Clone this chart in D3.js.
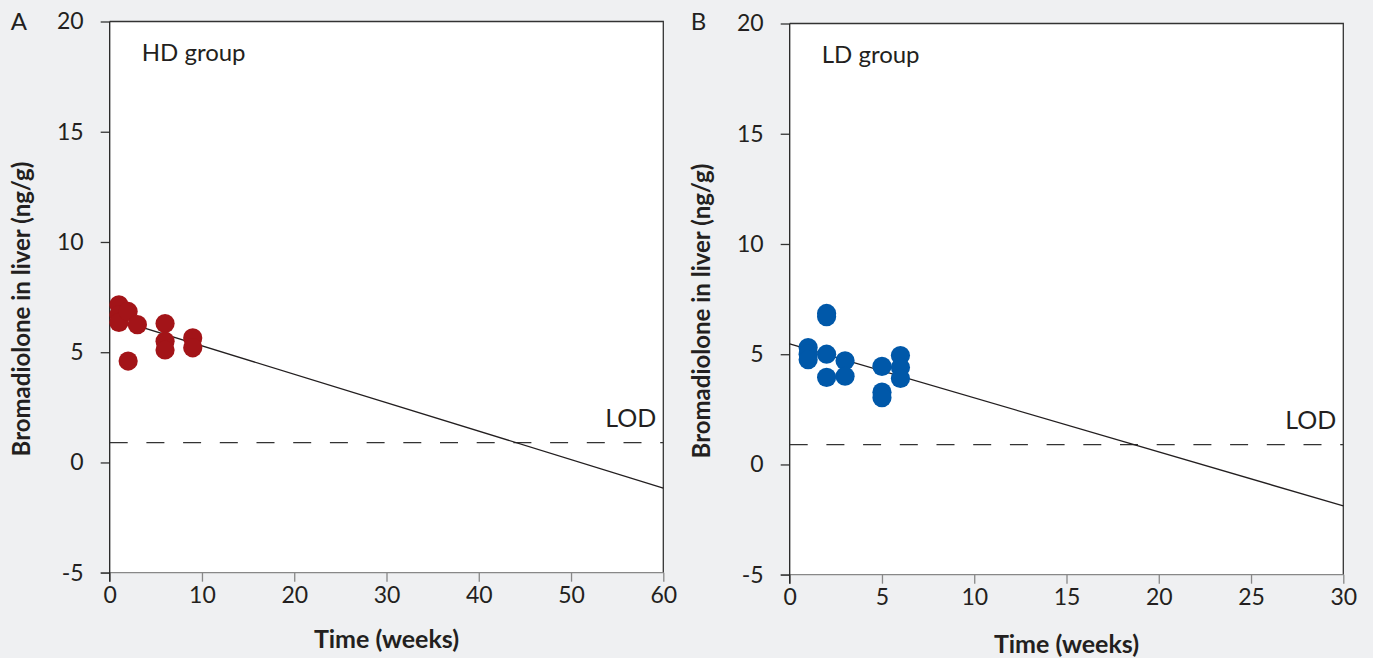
<!DOCTYPE html>
<html>
<head>
<meta charset="utf-8">
<script src="https://cdn.jsdelivr.net/npm/d3@7"></script>
<style>
  body { margin: 0; background: #eff0f2; }
  svg { display: block; }
  text { font-family: Lato, "Noto Sans", sans-serif; fill: #231f20; }
</style>
</head>
<body>
<svg id="chart"></svg>
<script>
// data
const hdWeeks = [1, 1, 1, 2, 2, 3, 6, 6, 6, 9, 9];
const hdValues = [7.15, 6.7, 6.35, 6.85, 4.6, 6.25, 6.3, 5.5, 5.1, 5.65, 5.2];
const ldWeeks = [1, 1, 1, 2, 2, 2, 2, 3, 3, 5, 5, 5, 6, 6, 6];
const ldValues = [5.3, 5.0, 4.75, 6.85, 6.7, 5.0, 3.95, 4.7, 4.0, 4.45, 3.28, 3.03, 4.94, 4.4, 3.9];
const hdFit = [6.58, -0.129]; // intercept, slope
const ldFit = [5.47, -0.245];
const lod = 0.9;
const yTicks = [-5, 0, 5, 10, 15, 20];
const hdXTicks = [0, 10, 20, 30, 40, 50, 60];
const ldXTicks = [0, 5, 10, 15, 20, 25, 30];

const W = 1373, H = 658;
const svg = d3.select("#chart").attr("width", W).attr("height", H);

const panels = [
  { letter: "A", group: "HD group", weeks: hdWeeks, values: hdValues, fit: hdFit,
    xMax: 60, xTicks: hdXTicks, color: "#a31418", titleY: 648,
    left: 109.7, right: 663.3, top: 21.5, bottom: 572.7 },
  { letter: "B", group: "LD group", weeks: ldWeeks, values: ldValues, fit: ldFit,
    xMax: 30, xTicks: ldXTicks, color: "#0058a9", titleY: 653,
    left: 789.7, right: 1343.3, top: 23.5, bottom: 574.7 }
];

panels.forEach((p) => {
  const x = d3.scaleLinear().domain([0, p.xMax]).range([p.left, p.right]);
  const y = d3.scaleLinear().domain([-5, 20]).range([p.bottom, p.top]);
  const g = svg.append("g");

  // plot background + frame top/right
  g.append("rect")
    .attr("x", p.left).attr("y", p.top)
    .attr("width", p.right - p.left).attr("height", p.bottom - p.top)
    .attr("fill", "#fff");
  g.append("path")
    .attr("d", `M${p.left},${p.top}H${p.right}V${p.bottom}`)
    .attr("fill", "none").attr("stroke", "#333").attr("stroke-width", 1.3);

  // x axis
  const xAxis = g.append("g")
    .attr("transform", `translate(0,${p.bottom})`)
    .call(d3.axisBottom(x).tickValues(p.xTicks).tickSize(9).tickPadding(5).tickSizeOuter(0));
  xAxis.select(".domain").remove();
  xAxis.append("line")
    .attr("x1", p.left - 9).attr("x2", p.right)
    .attr("stroke", "#888").attr("stroke-width", 1.3);
  xAxis.selectAll(".tick line").attr("stroke", "#888").attr("stroke-width", 1.3);
  xAxis.selectAll(".tick text")
    .style("font-family", "Lato, 'Noto Sans', sans-serif")
    .style("font-size", "23px").attr("fill", "#231f20");

  // y axis
  const yAxis = g.append("g")
    .attr("transform", `translate(${p.left},0)`)
    .call(d3.axisLeft(y).tickValues(yTicks).tickFormat((d) => String(d))
      .tickSize(9).tickPadding(17).tickSizeOuter(0));
  yAxis.select(".domain").remove();
  yAxis.append("line")
    .attr("y1", p.top).attr("y2", p.bottom + 9)
    .attr("stroke", "#222").attr("stroke-width", 1.3);
  yAxis.selectAll(".tick line").attr("stroke", "#333").attr("stroke-width", 1.3);
  yAxis.selectAll(".tick text")
    .style("font-family", "Lato, 'Noto Sans', sans-serif")
    .style("font-size", "23px").attr("fill", "#231f20");

  // LOD line
  g.append("line")
    .attr("x1", p.left).attr("x2", p.right)
    .attr("y1", y(lod)).attr("y2", y(lod))
    .attr("stroke", "#333").attr("stroke-width", 1.2)
    .attr("stroke-dasharray", "18,18.7");
  g.append("text")
    .attr("x", p.right - 7).attr("y", y(lod) - 16)
    .attr("text-anchor", "end").style("font-size", "25px")
    .text("LOD");

  // regression line
  g.append("line")
    .attr("x1", x(0)).attr("y1", y(p.fit[0]))
    .attr("x2", x(p.xMax)).attr("y2", y(p.fit[0] + p.fit[1] * p.xMax))
    .attr("stroke", "#231f20").attr("stroke-width", 1.3);

  // points
  g.selectAll("circle")
    .data(p.weeks.map((w, i) => [w, p.values[i]]))
    .enter()
    .append("circle")
    .attr("cx", (d) => x(d[0]))
    .attr("cy", (d) => y(d[1]))
    .attr("r", 9.6)
    .attr("fill", p.color);

  // labels
  g.append("text")
    .attr("x", p.left + 32).attr("y", p.top + 39)
    .style("font-size", "24px").text(p.group);
  g.append("text")
    .attr("x", p.left - 99).attr("y", 30)
    .style("font-size", "24px").text(p.letter);
  g.append("text")
    .attr("x", (p.left + p.right) / 2).attr("y", p.titleY)
    .attr("text-anchor", "middle")
    .style("font-size", "25px").style("font-weight", "bold")
    .text("Time (weeks)");
  g.append("text")
    .attr("transform", `translate(${p.left - 80},${(p.top + p.bottom) / 2 + 12}) rotate(-90)`)
    .attr("text-anchor", "middle")
    .style("font-size", "24px").style("font-weight", "bold")
    .text("Bromadiolone in liver (ng/g)");
});
</script>
</body>
</html>
